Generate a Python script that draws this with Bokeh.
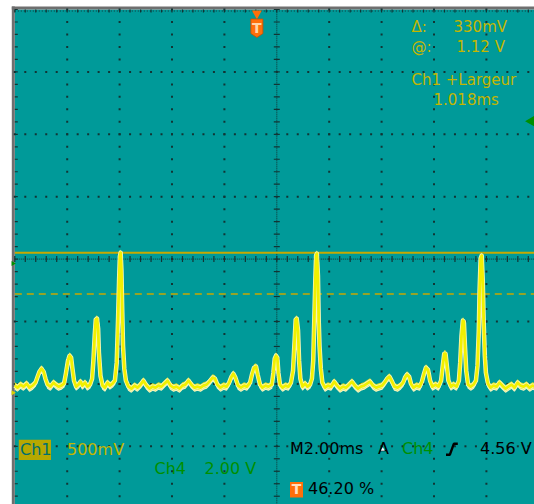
import numpy as np
from bokeh.plotting import figure
from bokeh.models import Range1d
from bokeh.core.properties import value
from bokeh.embed import file_html
from bokeh.resources import INLINE

# ---------------- acquisition settings ----------------
TIME_PER_DIV_MS = 2.0
CH1_VOLTS_PER_DIV = 0.5
CH4_VOLTS_PER_DIV = 2.0
H_DIVS = 10
V_DIVS = 8
CH1_POSITION_DIV = 2.14      # Ch1 ground sits this many divisions below centre
CH4_POSITION_DIV = 0.07      # Ch4 ground sits this many divisions below centre
TRIGGER_POS_PCT = 46.20
TRIGGER_LEVEL_V = 4.56
CURSOR_AT_V = 1.12
CURSOR_DELTA_V = 0.33
PULSE_WIDTH_MS = 1.018
NOISE_HALF_BAND_V = 0.028    # persistence band around the trace

# ---------------- Ch1 trace (ms, V) ----------------
trace_t_ms = [
    0.00, 0.10, 0.22, 0.33, 0.45, 0.56, 0.68,
    0.79, 0.87, 0.94, 1.02, 1.10, 1.17, 1.25, 1.36, 1.48, 1.56, 1.67, 1.78,
    1.88, 1.95, 2.03, 2.09, 2.15, 2.20, 2.26, 2.34, 2.43, 2.51, 2.58, 2.68, 2.77, 2.87,
    2.95, 3.00, 3.05, 3.09, 3.14, 3.18, 3.21, 3.27, 3.35, 3.44, 3.54, 3.63, 3.73,
    3.82, 3.89, 3.94, 3.98, 4.01, 4.04, 4.07, 4.10, 4.13, 4.18, 4.24,
    4.34, 4.45, 4.57, 4.68, 4.80, 4.91, 5.03, 5.14, 5.26, 5.37, 5.48, 5.60, 5.71,
    5.83, 5.94, 6.06, 6.17, 6.29, 6.40, 6.51, 6.63, 6.74, 6.86, 6.97, 7.09, 7.20,
    7.32, 7.43, 7.55, 7.64, 7.73, 7.85, 7.97, 8.08,
    8.18, 8.27, 8.34, 8.42, 8.52, 8.63, 8.75, 8.86,
    8.98, 9.05, 9.13, 9.21, 9.27, 9.36, 9.45, 9.57, 9.68,
    9.81, 9.87, 9.92, 9.97, 10.02, 10.06, 10.12, 10.22, 10.33, 10.44,
    10.54, 10.62, 10.68, 10.72, 10.76, 10.81, 10.85, 10.90, 10.98, 11.08, 11.17, 11.27,
    11.34, 11.39, 11.43, 11.47, 11.50, 11.53, 11.57, 11.60, 11.63, 11.68, 11.74,
    11.84, 11.95, 12.07, 12.19, 12.30, 12.41, 12.53, 12.64, 12.76, 12.87, 12.98,
    13.10, 13.21, 13.33, 13.44, 13.56, 13.67, 13.79, 13.90, 14.02,
    14.11, 14.21, 14.30, 14.40, 14.49, 14.61, 14.72,
    14.82, 14.89, 14.97, 15.05, 15.12, 15.22, 15.33, 15.45,
    15.54, 15.62, 15.69, 15.77, 15.85, 15.94, 16.06, 16.17,
    16.27, 16.33, 16.39, 16.44, 16.49, 16.55, 16.65, 16.74, 16.86,
    16.95, 17.00, 17.05, 17.10, 17.14, 17.18, 17.23, 17.30, 17.40, 17.51,
    17.60, 17.66, 17.71, 17.74, 17.78, 17.82, 17.86, 17.90, 17.94, 17.98, 18.06,
    18.16, 18.27, 18.39, 18.50, 18.61, 18.73, 18.84, 18.96, 19.07, 19.19, 19.30,
    19.42, 19.53, 19.65, 19.76, 19.87, 20.00,
]
trace_v = [
    0.056, 0.040, 0.064, 0.048, 0.072, 0.040, 0.056,
    0.080, 0.128, 0.168, 0.192, 0.168, 0.112, 0.064, 0.048, 0.080, 0.064, 0.048, 0.056,
    0.072, 0.152, 0.256, 0.296, 0.280, 0.192, 0.096, 0.048, 0.064, 0.088, 0.056, 0.080, 0.048, 0.064,
    0.112, 0.256, 0.457, 0.585, 0.593, 0.513, 0.321, 0.136, 0.056, 0.040, 0.080, 0.056, 0.072,
    0.096, 0.240, 0.577, 0.897, 1.090, 1.122, 0.978, 0.657, 0.377, 0.192, 0.096,
    0.048, 0.032, 0.056, 0.040, 0.064, 0.096, 0.056, 0.032, 0.048, 0.040, 0.056, 0.048, 0.072,
    0.096, 0.056, 0.040, 0.048, 0.032, 0.056, 0.064, 0.096, 0.064, 0.040, 0.048, 0.040, 0.056,
    0.064, 0.088, 0.120, 0.112, 0.064, 0.040, 0.056, 0.048,
    0.080, 0.128, 0.152, 0.120, 0.056, 0.040, 0.056, 0.048,
    0.080, 0.144, 0.200, 0.208, 0.144, 0.064, 0.040, 0.056, 0.048,
    0.064, 0.160, 0.272, 0.296, 0.280, 0.160, 0.064, 0.040, 0.056, 0.048,
    0.080, 0.176, 0.417, 0.585, 0.593, 0.497, 0.256, 0.112, 0.048, 0.072, 0.048, 0.064,
    0.112, 0.256, 0.577, 0.897, 1.098, 1.114, 0.938, 0.577, 0.377, 0.192, 0.080,
    0.040, 0.056, 0.048, 0.088, 0.056, 0.032, 0.048, 0.040, 0.064, 0.088, 0.056,
    0.032, 0.048, 0.056, 0.072, 0.088, 0.056, 0.040, 0.048, 0.056,
    0.080, 0.112, 0.128, 0.088, 0.048, 0.040, 0.056,
    0.080, 0.120, 0.144, 0.128, 0.072, 0.040, 0.056, 0.048,
    0.088, 0.152, 0.200, 0.184, 0.096, 0.048, 0.064, 0.048,
    0.096, 0.208, 0.312, 0.312, 0.216, 0.096, 0.048, 0.064, 0.048,
    0.096, 0.240, 0.457, 0.577, 0.569, 0.377, 0.176, 0.064, 0.048, 0.064,
    0.096, 0.216, 0.497, 0.817, 1.074, 1.098, 0.897, 0.537, 0.296, 0.160, 0.072,
    0.040, 0.056, 0.048, 0.080, 0.056, 0.032, 0.048, 0.064, 0.040, 0.080, 0.056,
    0.048, 0.064, 0.040, 0.056, 0.048, 0.064,
]

# ---------------- screen geometry (pixels) ----------------
W, H = 534, 504
DIV_W, DIV_H = 52.4, 62.4
SCREEN_LEFT, SCREEN_TOP = 14.3, 9.0

v_center = CH1_POSITION_DIV * CH1_VOLTS_PER_DIV
t_span = H_DIVS * TIME_PER_DIV_MS
v_bottom = v_center - V_DIVS / 2 * CH1_VOLTS_PER_DIV
v_top = v_center + V_DIVS / 2 * CH1_VOLTS_PER_DIV

x_start = -SCREEN_LEFT / DIV_W * TIME_PER_DIV_MS
x_end = x_start + W / DIV_W * TIME_PER_DIV_MS
y_top = v_top + SCREEN_TOP / DIV_H * CH1_VOLTS_PER_DIV
y_bottom = y_top - H / DIV_H * CH1_VOLTS_PER_DIV


def X(px):
    return x_start + px / DIV_W * TIME_PER_DIV_MS


def Y(py):
    return y_top - py / DIV_H * CH1_VOLTS_PER_DIV


TEAL = "#009a99"
GRID = "#123434"
OLIVE = "#c4b600"
CURSOR = "#c8a800"
GREEN = "#008f00"
ORANGE = "#ff6f0a"
FONT = value("DejaVu Sans")

p = figure(width=W, height=H, x_range=Range1d(x_start, x_end),
           y_range=Range1d(y_bottom, y_top), output_backend="svg",
           toolbar_location=None, min_border=0, x_axis_type=None,
           y_axis_type=None, background_fill_color="white",
           border_fill_color="white", outline_line_color=None)
p.grid.visible = False

# screen and bezel
p.quad(left=[0], right=[t_span], bottom=[v_bottom], top=[v_top],
       fill_color=TEAL, line_color=None)
p.line([X(SCREEN_LEFT - 1.5)] * 2, [v_bottom, Y(SCREEN_TOP - 3)],
       line_color="#6f6f6f", line_width=3)
p.line([X(SCREEN_LEFT - 3), t_span + 1], [Y(SCREEN_TOP - 1.5)] * 2,
       line_color="#6f6f6f", line_width=3)

# graticule
minor_v = v_bottom + 0.2 * CH1_VOLTS_PER_DIV * np.arange(V_DIVS * 5 + 1)
minor_t = 0.2 * TIME_PER_DIV_MS * np.arange(H_DIVS * 5 + 1)
major_t = [k * TIME_PER_DIV_MS for k in range(1, H_DIVS) if k != H_DIVS // 2]
major_v = [v_center + m * CH1_VOLTS_PER_DIV for m in (-3, -2, -1, 1, 2, 3)]

gx = [t for t in major_t for _ in minor_v] + [t for _ in major_v for t in minor_t]
gy = [v for _ in major_t for v in minor_v] + [v for v in major_v for _ in minor_t]
p.scatter(gx, gy, marker="square", size=2, fill_color=GRID, line_color=None)

t_mid = t_span / 2
p.line([t_mid, t_mid], [v_bottom, v_top], line_color=GRID, line_dash="1 1", line_width=1)
p.line([0, t_span], [v_center, v_center], line_color=GRID, line_dash="1 1", line_width=1)
tick_dt = 3 / DIV_W * TIME_PER_DIV_MS
tick_dv = 3 / DIV_H * CH1_VOLTS_PER_DIV
p.segment(x0=t_mid - tick_dt, x1=t_mid + tick_dt, y0=minor_v, y1=minor_v,
          line_color=GRID, line_width=1.2)
p.segment(x0=minor_t, x1=minor_t, y0=v_center - tick_dv, y1=v_center + tick_dv,
          line_color=GRID, line_width=1.2)
p.segment(x0=0, x1=tick_dt, y0=minor_v, y1=minor_v, line_color=GRID, line_width=1.2)
p.segment(x0=minor_t, x1=minor_t, y0=v_top, y1=v_top - tick_dv,
          line_color=GRID, line_width=1.2)
p.line([0, t_span], [v_top - 0.5 * tick_dv] * 2, line_color=GRID,
       line_dash="1 2", line_width=1)

# cursors
p.line([0, t_span], [CURSOR_AT_V] * 2, line_color=CURSOR, line_width=2)
p.line([0, t_span], [CURSOR_AT_V - CURSOR_DELTA_V] * 2, line_color=CURSOR,
       line_width=1.6, line_dash="7 5")

# Ch1 trace with its noise band
tv = np.array(trace_v)
p.varea(x=trace_t_ms, y1=tv - NOISE_HALF_BAND_V, y2=tv + NOISE_HALF_BAND_V,
        fill_color="#e6e41c")
p.line(trace_t_ms, list(tv - NOISE_HALF_BAND_V), line_color="#f4f4c0", line_width=1.2)
p.line(trace_t_ms, trace_v, line_color="#f6f6b8", line_width=4.5, line_join="round")
p.line(trace_t_ms, trace_v, line_color="#f2f000", line_width=2.8, line_join="round")

# channel ground markers and trigger level
ch4_ground = v_center - CH4_POSITION_DIV * CH1_VOLTS_PER_DIV
trig_y = ch4_ground + TRIGGER_LEVEL_V / CH4_VOLTS_PER_DIV * CH1_VOLTS_PER_DIV
p.scatter([X(12.5)], [0.0], marker="triangle", angle=-np.pi / 2, size=5,
          fill_color="#d8d000", line_color=None)
p.scatter([X(12.5)], [ch4_ground], marker="triangle", angle=-np.pi / 2, size=5,
          fill_color=GREEN, line_color=None)
p.scatter([X(531.5)], [trig_y], marker="triangle", angle=np.pi / 2, size=12,
          fill_color=GREEN, line_color=None)


def label(px, py, s, color, size=15, align="left", style="normal"):
    # py is the wanted baseline; the renderer drops glyphs by ~0.45 em
    p.text([X(px)], [Y(py - 0.45 * size)], text=[s], text_color=color,
           text_font=FONT, text_font_size=f"{size}px", text_align=align,
           text_baseline="alphabetic", text_font_style=style)


# trigger position marker
trig_t = TRIGGER_POS_PCT / 100 * t_span
p.scatter([trig_t], [Y(13)], marker="inverted_triangle", size=10,
          fill_color=ORANGE, line_color=None)
bw = 6 / DIV_W * TIME_PER_DIV_MS
p.patch([trig_t - bw, trig_t + bw, trig_t + bw, trig_t, trig_t - bw],
        [Y(18.5), Y(18.5), Y(33), Y(37), Y(33)],
        fill_color=ORANGE, line_color="#c85000", line_width=0.8)
p.text([trig_t], [Y(33 - 6)], text=["T"], text_color="#ffd6a8", text_font=FONT,
       text_font_size="14px", text_font_style="bold", text_align="center",
       text_baseline="alphabetic")

# measurement readouts
label(411, 33.5, "\u0394:", OLIVE)
label(453, 33.5, f"{CURSOR_DELTA_V * 1000:.0f}mV", OLIVE)
label(411, 53.5, "@:", OLIVE)
label(456, 53.5, f"{CURSOR_AT_V:.2f} V", OLIVE)
label(411, 86, "Ch1 +Largeur", OLIVE)
label(433, 106, f"{PULSE_WIDTH_MS:.3f}ms", OLIVE)

# channel / timebase readouts
p.quad(left=[X(18.3)], right=[X(50.5)], bottom=[Y(459.5)], top=[Y(439.3)],
       fill_color="#b7a800", line_color=None)
label(19.5, 456, "Ch1", "#006f6e", size=16)
label(66.5, 456, f"{CH1_VOLTS_PER_DIV * 1000:.0f}mV", OLIVE, size=16)
label(154, 475, "Ch4", GREEN, size=16)
label(204, 475, f"{CH4_VOLTS_PER_DIV:.2f} V", GREEN, size=16)
label(289.5, 455, f"M{TIME_PER_DIV_MS:.2f}ms", "#000000", size=16)
label(377.5, 455, "A", "#000000", size=16)
p.scatter([X(382.3)], [Y(449)], marker="triangle", size=4,
          fill_color="white", line_color=None)
label(401.5, 455, "Ch4", GREEN, size=16)
p.line([X(445.5), X(449.3), X(453.3), X(457.3)],
       [Y(454.3), Y(454.3), Y(443.3), Y(443.3)],
       line_color="#000000", line_width=2.4)
label(479.5, 455, f"{TRIGGER_LEVEL_V:.2f} V", "#000000", size=16)

p.quad(left=[X(289.5)], right=[X(302.5)], bottom=[Y(497)], top=[Y(481.5)],
       fill_color=ORANGE, line_color=None)
label(296, 495, "T", "#ffe0c0", size=14, align="center", style="bold")
label(307.5, 495.5, f"{TRIGGER_POS_PCT:.2f} %", "#000000", size=16)

open("out.html", "w").write(file_html(p, INLINE))
